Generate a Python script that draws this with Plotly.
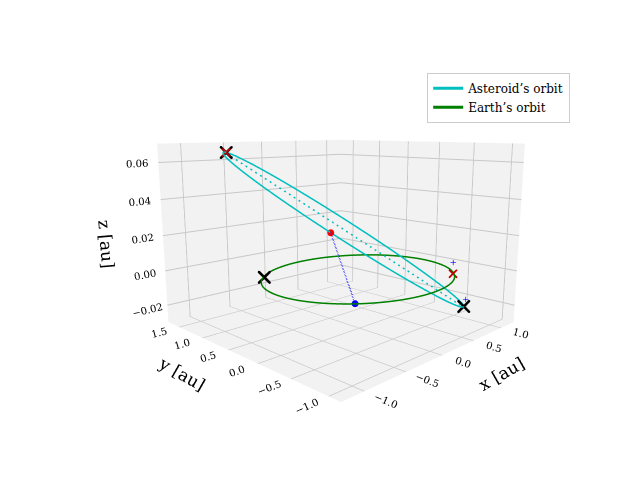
import numpy as np
import plotly.graph_objects as go

# Orbit parameters
earth_radius = 1.0
ast_center = [0.075, 0.3, 0.0225]
ast_major = [-0.775, 1.05, 0.0425]
ast_minor = [-0.55, -0.4, 0.005]
n_pts = 240

# Marker points (x, y, z)
black_x = {"x": [-0.7, 0.85, -0.7], "y": [0.7, -0.75, 1.35], "z": [0.0, -0.02, 0.065]}
red_x = {"x": [-0.7, 0.7], "y": [1.35, -0.7], "z": [0.065, 0.0]}
blue_plus = {"x": [0.72, 0.92], "y": [-0.68, -0.72], "z": [0.006, -0.017]}
red_dot = {"x": [-0.475], "y": [-0.1], "z": [0.0275]}
blue_dot = {"x": [-0.7], "y": [-0.7], "z": [0.0]}
apsides = {"x": [-0.7, 0.85], "y": [1.35, -0.75], "z": [0.0645, -0.0205]}

t = np.linspace(0, 2 * np.pi, n_pts)
ex, ey, ez = earth_radius * np.cos(t), earth_radius * np.sin(t), 0 * t
c, u, v = map(np.array, (ast_center, ast_major, ast_minor))
ast = c[:, None] + np.outer(u, np.cos(t)) + np.outer(v, np.sin(t))

fig = go.Figure()
fig.add_trace(go.Scatter3d(x=ast[0], y=ast[1], z=ast[2], mode="lines",
                           line=dict(color="#00bfbf", width=3), name="Asteroid’s orbit"))
fig.add_trace(go.Scatter3d(x=ex, y=ey, z=ez, mode="lines",
                           line=dict(color="green", width=3), name="Earth’s orbit"))
fig.add_trace(go.Scatter3d(**apsides, mode="lines", showlegend=False,
                           line=dict(color="#00bfbf", width=3, dash="dash")))
fig.add_trace(go.Scatter3d(x=red_dot["x"] + blue_dot["x"], y=red_dot["y"] + blue_dot["y"],
                           z=red_dot["z"] + blue_dot["z"], mode="lines", showlegend=False,
                           line=dict(color="blue", width=3, dash="dash")))
fig.add_trace(go.Scatter3d(**black_x, mode="markers", showlegend=False,
                           marker=dict(symbol="x", color="black", size=3)))
fig.add_trace(go.Scatter3d(**red_x, mode="markers", showlegend=False,
                           marker=dict(symbol="x", color="#c00000", size=2)))
fig.add_trace(go.Scatter3d(**blue_plus, mode="markers", showlegend=False,
                           marker=dict(symbol="cross", color="blue", size=3)))
fig.add_trace(go.Scatter3d(**red_dot, mode="markers", showlegend=False,
                           marker=dict(color="red", size=4)))
fig.add_trace(go.Scatter3d(**blue_dot, mode="markers", showlegend=False,
                           marker=dict(color="blue", size=4)))

ax = dict(showbackground=True, backgroundcolor="#f2f2f2", gridcolor="#c8c8c8",
          zeroline=False, showspikes=False, tickfont=dict(size=11))
fig.update_layout(
    width=640, height=480, paper_bgcolor="white",
    font=dict(family="DejaVu Serif", color="black"),
    margin=dict(l=0, r=0, t=0, b=0),
    legend=dict(x=0.655, y=0.865, bgcolor="white", bordercolor="#cccccc", borderwidth=1,
                font=dict(size=12)),
    scene=dict(
        domain=dict(x=[0.04, 1.0], y=[0.0, 1.0]),
        xaxis=dict(ax, title=dict(text="x [au]", font=dict(size=17)), range=[-1.25, 1.25],
                   tickvals=[-1.0, -0.5, 0.0, 0.5, 1.0], tickformat=".1f"),
        yaxis=dict(ax, title=dict(text="y [au]", font=dict(size=17)), range=[-1.15, 1.75],
                   tickvals=[-1.0, -0.5, 0.0, 0.5, 1.0, 1.5], tickformat=".1f"),
        zaxis=dict(ax, title=dict(text="z [au]", font=dict(size=17)), range=[-0.03, 0.07],
                   tickvals=[-0.02, 0.0, 0.02, 0.04, 0.06], tickformat=".2f"),
        aspectmode="manual", aspectratio=dict(x=1, y=1, z=0.72),
        camera=dict(eye=dict(x=-1.6, y=-1.6, z=0.42), center=dict(x=0, y=0, z=-0.05)),
    ),
)
fig.write_html("out.html")
